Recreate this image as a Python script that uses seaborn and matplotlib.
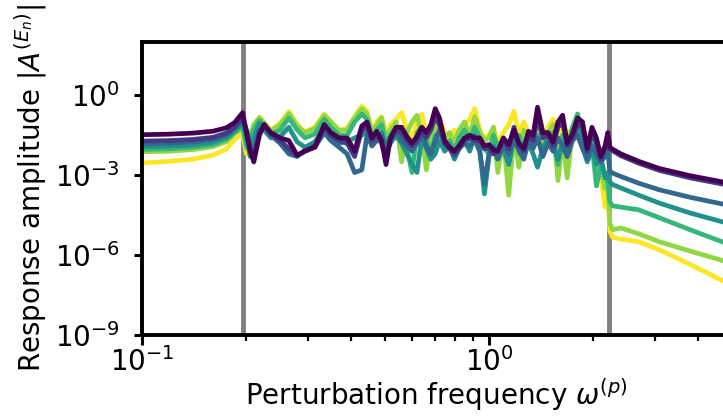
import numpy as np
import pandas as pd
import matplotlib
matplotlib.use("Agg")
import matplotlib.pyplot as plt
from matplotlib.ticker import NullLocator
import seaborn as sns

# perturbation frequencies (shared by all curves)
freq = [0.10, 0.12, 0.14, 0.16, 0.175, 0.185, 0.195,
        0.200, 0.205, 0.210, 0.218, 0.225, 0.235, 0.250, 0.265, 0.280, 0.295,
        0.315, 0.335, 0.350, 0.370, 0.390, 0.410,
        0.43, 0.445, 0.46, 0.475, 0.49, 0.505, 0.52, 0.54, 0.56, 0.58, 0.60,
        0.62, 0.64, 0.66, 0.68, 0.70, 0.72, 0.745, 0.77, 0.795, 0.82, 0.85,
        0.88, 0.91, 0.94, 0.97, 1.00, 1.03, 1.06, 1.10, 1.14, 1.18, 1.22,
        1.26, 1.30, 1.34, 1.38, 1.43, 1.48, 1.53, 1.58, 1.63, 1.68, 1.74,
        1.80, 1.86, 1.92, 1.98, 2.04, 2.10, 2.16, 2.20,
        2.23, 2.27, 2.40, 2.70, 3.10, 3.80, 4.70, 5.00]

# log10 of response amplitude, one list per curve (purple -> yellow)
curve_0 = [-1.48, -1.46, -1.42, -1.35, -1.22, -1.02, -0.65,
           -1.4, -2.1, -2.5, -1.5, -1.1, -1.4, -1.6, -1.7, -2.25, -2.1, -1.95, -1.1, -1.4, -1.6, -1.6, -2.1,
           -1.15, -1.0, -1.6, -1.35, -1.7, -2.6, -1.6, -1.2, -1.2, -1.55, -1.8, -1.55, -1.2, -1.4, -1.1, -0.5,
           -0.85, -1.7, -1.95, -2.1, -1.9, -1.6, -1.5, -1.6, -1.6, -1.9, -1.85, -2.05, -2.1, -1.6, -1.85, -1.3,
           -1.8, -2.0, -1.35, -1.5, -0.45, -1.4, -1.4, -1.75, -1.0, -0.75, -1.8, -1.45, -0.85, -1.0, -2.0, -1.2,
           -1.6, -2.3, -1.9, -1.4,
           -1.95, -2.02, -2.2, -2.48, -2.75, -3.02, -3.25, -3.32]
curve_1 = [-1.72, -1.70, -1.66, -1.58, -1.42, -1.18, -0.85,
           -1.35, -2.0, -2.3, -1.4, -1.1, -1.45, -1.7, -2.0, -2.25, -2.1, -1.9, -1.2, -1.5, -1.7, -1.8, -2.3,
           -1.3, -1.2, -1.7, -1.5, -1.8, -2.3, -1.7, -1.3, -1.4, -1.7, -1.9, -1.7, -1.3, -1.6, -1.3, -0.8,
           -1.1, -1.8, -2.0, -2.2, -2.0, -1.7, -1.6, -1.7, -1.7, -2.0, -2.0, -2.2, -2.1, -1.7, -2.0, -1.2,
           -1.9, -2.1, -1.5, -1.7, -0.8, -1.6, -1.5, -1.9, -1.2, -1.0, -1.9, -1.6, -1.1, -1.2, -2.1, -1.4,
           -1.8, -2.4, -2.0, -1.6,
           -2.02, -2.08, -2.27, -2.55, -2.82, -3.1, -3.33, -3.4]
curve_2 = [-1.82, -1.80, -1.75, -1.66, -1.50, -1.25, -0.95,
           -1.3, -1.9, -2.1, -1.3, -1.2, -1.5, -1.8, -2.2, -2.3, -2.05, -1.95, -1.4, -1.7, -1.95, -2.2, -2.9,
           -2.8, -1.5, -1.9, -1.7, -1.5, -2.0, -1.6, -1.4, -1.7, -1.9, -2.1, -1.8, -1.5, -1.9, -2.2, -1.7,
           -1.3, -1.8, -2.0, -2.3, -2.0, -1.8, -1.9, -1.7, -2.1, -3.3, -2.2, -2.0, -2.4, -1.9, -2.2, -1.6,
           -2.1, -2.4, -1.7, -2.0, -1.6, -2.3, -1.8, -2.1, -1.6, -1.9, -2.3, -1.7, -1.5, -2.0, -2.4, -1.9,
           -2.2, -2.5, -2.3, -2.1,
           -2.85, -2.92, -3.05, -3.3, -3.55, -3.83, -4.08, -4.15]
curve_3 = [-1.93, -1.91, -1.86, -1.76, -1.58, -1.32, -1.05,
           -1.6, -2.3, -1.6, -1.05, -1.3, -1.6, -1.55, -1.2, -1.75, -1.95, -1.75, -1.2, -1.5, -1.8, -1.75, -1.6,
           -1.5, -1.3, -1.9, -1.6, -1.4, -2.1, -1.8, -1.5, -1.8, -2.2, -2.6, -2.9, -1.6, -2.0, -2.4, -2.2,
           -1.7, -2.1, -1.9, -2.4, -2.0, -1.7, -2.1, -1.5, -2.0, -3.7, -2.3, -1.9, -2.2, -2.0, -2.6, -1.6,
           -1.9, -2.3, -1.8, -2.2, -2.7, -2.0, -1.6, -1.9, -2.4, -1.8, -2.2, -1.5, -1.2, -1.9, -2.5, -2.0,
           -2.6, -2.3, -3.1, -2.9,
           -3.25, -3.35, -3.48, -3.75, -4.05, -4.42, -4.75, -4.85]
curve_4 = [-2.03, -2.01, -1.95, -1.85, -1.66, -1.38, -1.15,
           -1.9, -1.65, -1.3, -0.95, -1.15, -1.48, -1.3, -0.85, -1.3, -1.6, -1.45, -0.9, -1.2, -1.5, -1.5, -1.0,
           -0.7, -0.9, -1.6, -1.3, -1.1, -1.8, -1.5, -1.2, -1.5, -2.0, -2.9, -1.4, -1.2, -1.7, -2.2, -1.5,
           -1.4, -1.9, -1.7, -2.1, -1.6, -1.3, -1.7, -1.2, -1.6, -2.0, -2.2, -1.5, -1.9, -1.7, -2.3, -1.8,
           -1.5, -2.0, -1.4, -1.9, -1.5, -2.2, -1.7, -1.4, -2.6, -1.5, -2.0, -1.2, -0.7, -1.6, -2.3, -1.8,
           -3.4, -2.6, -3.0, -3.2,
           -4.0, -4.15, -4.2, -4.3, -4.6, -5.05, -5.5, -5.62]
curve_5 = [-2.12, -2.10, -2.04, -1.93, -1.74, -1.44, -1.25,
           -2.0, -1.5, -1.1, -0.85, -1.05, -1.35, -1.1, -0.68, -1.15, -1.4, -1.25, -0.75, -1.0, -1.33, -1.3, -0.85,
           -0.5, -0.7, -1.4, -1.1, -0.85, -1.6, -1.3, -1.0, -2.5, -1.4, -1.0, -0.75, -1.5, -2.8, -1.6, -1.1,
           -1.3, -1.6, -1.4, -1.8, -1.3, -1.0, -1.5, -0.8, -1.4, -1.7, -1.6, -1.2, -2.9, -1.6, -3.75, -1.5,
           -2.7, -1.3, -1.6, -1.9, -1.2, -1.8, -1.4, -1.1, -3.2, -1.6, -3.1, -1.4, -1.2, -1.9, -2.4, -1.7,
           -3.0, -2.8, -3.5, -3.3,
           -4.8, -5.05, -4.98, -5.2, -5.5, -5.85, -6.2, -6.3]
curve_6 = [-2.54, -2.48, -2.40, -2.25, -2.02, -1.65, -1.45,
           -2.2, -1.6, -1.15, -0.82, -1.02, -1.32, -1.05, -0.62, -1.1, -1.38, -1.2, -0.7, -0.98, -1.3, -1.25, -0.8,
           -0.4, -0.6, -1.3, -1.0, -0.8, -1.5, -1.1, -0.9, -0.65, -1.3, -1.6, -1.0, -0.7, -1.5, -1.9, -1.2,
           -0.9, -1.4, -1.6, -1.3, -1.7, -1.1, -0.9, -0.5, -1.3, -1.6, -1.5, -1.2, -1.8, -1.4, -1.1, -0.6,
           -1.5, -1.0, -1.4, -1.7, -1.0, -1.6, -1.2, -0.9, -1.8, -1.1, -1.5, -1.2, -0.9, -1.6, -2.0, -1.5,
           -2.7, -3.0, -4.2, -3.6,
           -5.1, -5.33, -5.4, -5.5, -5.8, -6.35, -6.95, -7.05]

# resonance markers
resonances = [0.195, 2.22]

curves = [curve_0, curve_1, curve_2, curve_3, curve_4, curve_5, curve_6]
names = [f"c{i}" for i in range(len(curves))]
frames = [pd.DataFrame({"freq": freq, "amp": 10.0 ** np.array(c), "curve": n})
          for n, c in zip(names, curves)]
df = pd.concat(frames, ignore_index=True)

sns.set_style("ticks")
plt.rcParams["font.family"] = ["DejaVu Sans"]
for key in ["text.color", "axes.labelcolor", "axes.edgecolor", "xtick.color", "ytick.color"]:
    plt.rcParams[key] = "black"
plt.rcParams["axes.linewidth"] = 2.8
plt.rcParams["xtick.major.width"] = 2.2
plt.rcParams["ytick.major.width"] = 2.2
plt.rcParams["xtick.minor.width"] = 1.6
plt.rcParams["xtick.major.size"] = 7
plt.rcParams["ytick.major.size"] = 6
plt.rcParams["xtick.minor.size"] = 4

# full viridis range, purple -> yellow
palette = ["#440154", "#443983", "#31688e", "#21918c", "#35b779", "#90d743", "#fde725"]

fig = plt.figure(figsize=(7.23, 4.16), dpi=100)
ax = fig.add_axes([0.1964, 0.1947, 0.8154, 0.7043])
ax.set_xscale("log")
ax.set_yscale("log")

for r in resonances:
    ax.axvline(r, color="grey", lw=3.5, zorder=1)

# draw yellow first so purple ends up on top
sns.lineplot(data=df, x="freq", y="amp", hue="curve", hue_order=names[::-1],
             palette=palette[::-1], estimator=None, sort=False,
             linewidth=3.4, legend=False, ax=ax)

ax.set_xlim(0.1, 5.0)
ax.set_ylim(1e-9, 1e2)
ax.set_yticks([1e-9, 1e-6, 1e-3, 1e0])
ax.yaxis.set_minor_locator(NullLocator())
ax.tick_params(axis="both", which="major", labelsize=20)
ax.tick_params(axis="y", pad=10)
ax.tick_params(axis="x", pad=2)

ax.set_xlabel(r"Perturbation frequency $\omega^{(p)}$", fontsize=20, labelpad=-1)
ax.set_ylabel(r"Response amplitude $|A^{(E_n)}|$", fontsize=20, labelpad=4)

fig.savefig("out.png", dpi=100)
